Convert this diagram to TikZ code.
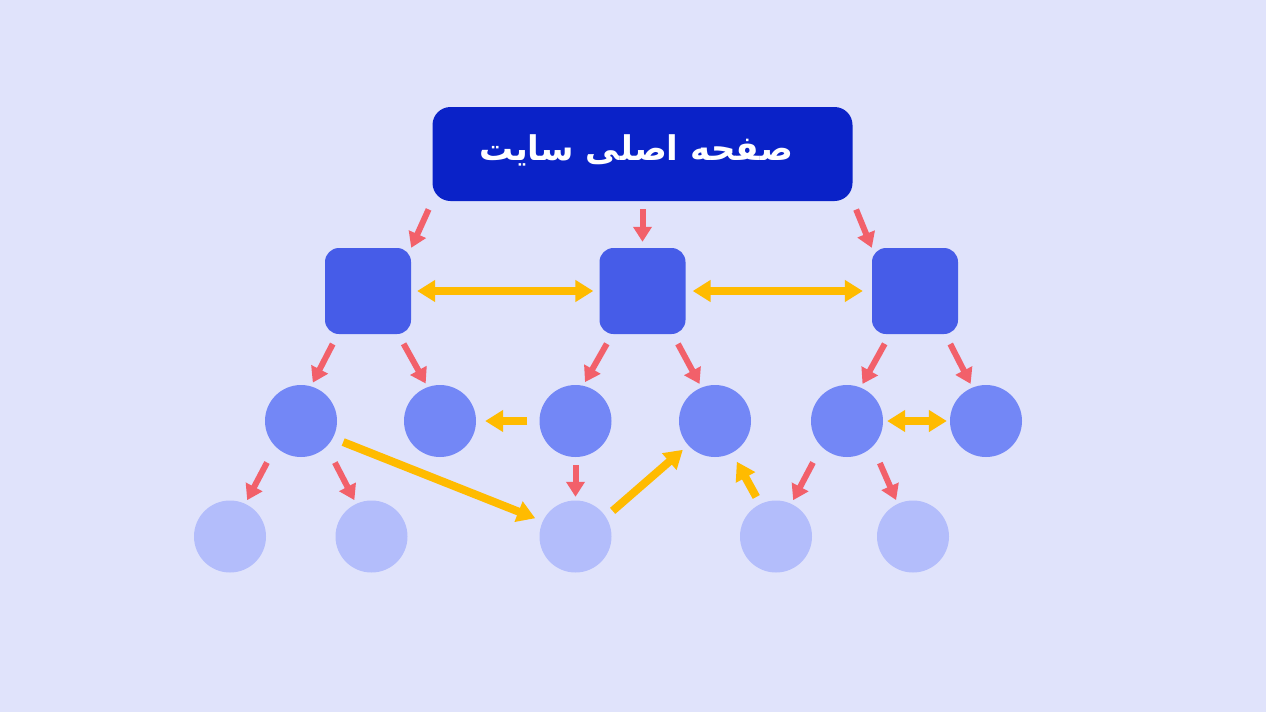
\documentclass[tikz,border=0pt]{standalone}
\usepackage{fontspec}
\newfontfamily\farsifont[Script=Arabic]{DejaVu Sans}
\TeXXeTstate=1
\usetikzlibrary{arrows.meta}
\definecolor{bgcol}{HTML}{E0E3FB}
\definecolor{homecol}{HTML}{0A22C8}
\definecolor{sqcol}{HTML}{465CE8}
\definecolor{midcol}{HTML}{7387F6}
\definecolor{lowcol}{HTML}{B3BDFB}
\definecolor{linkred}{HTML}{F2606A}
\definecolor{linkyellow}{HTML}{FFBB00}
\tikzset{
	homebox/.style={rectangle, fill=homecol, rounded corners=18pt, minimum width=420pt, minimum height=94pt, text=white, inner sep=0pt},
	sqbox/.style={rectangle, fill=sqcol, rounded corners=14pt, minimum size=86pt, inner sep=0pt},
	midball/.style={circle, fill=midcol, minimum size=72pt, inner sep=0pt},
	lowball/.style={circle, fill=lowcol, minimum size=72pt, inner sep=0pt},
	redlink/.style={draw=linkred, line width=6pt, -{Triangle[width=18pt,length=15pt]}},
	yellowlink/.style={draw=linkyellow, line width=8pt, -{Triangle[width=21pt,length=18pt]}},
	yellowboth/.style={draw=linkyellow, line width=8pt, {Triangle[width=21pt,length=18pt]}-{Triangle[width=21pt,length=18pt]}}
}
\begin{document}
\begin{tikzpicture}[x=1pt,y=-1pt]
		\fill[bgcol] (0,0) rectangle (1266,712);
		\useasboundingbox (0,0) rectangle (1266,712);
		\node[homebox] (home) at (642.5,154) {};
		\node[text=white] (title) at (636,150) {\fontsize{34}{40}\selectfont\farsifont\bfseries\beginR صفحه اصلی سایت\endR};
		\node[sqbox] (s1) at (368,291) {};
		\node[sqbox] (s2) at (642.5,291) {};
		\node[sqbox] (s3) at (915,291) {};
		\node[midball] (m1) at (301,421) {};
		\node[midball] (m2) at (440,421) {};
		\node[midball] (m3) at (575.5,421) {};
		\node[midball] (m4) at (715,421) {};
		\node[midball] (m5) at (847,421) {};
		\node[midball] (m6) at (986,421) {};
		\node[lowball] (b1) at (230,536.5) {};
		\node[lowball] (b2) at (371.5,536.5) {};
		\node[lowball] (b3) at (575.5,536.5) {};
		\node[lowball] (b4) at (776,536.5) {};
		\node[lowball] (b5) at (913,536.5) {};
		\draw[redlink, shorten <=9pt] (home.south west) -- (s1.north east);
		\draw[redlink, shorten <=8pt, shorten >=6pt] (home.south) -- (s2.north);
		\draw[redlink, shorten <=9pt] (home.south east) -- (s3.north west);
		\draw[redlink, shorten <=11pt, shorten >=4pt] (s1.235) -- (m1.74);
		\draw[redlink, shorten <=11pt, shorten >=4pt] (s1.305) -- (m2.110);
		\draw[redlink, shorten <=11pt, shorten >=4pt] (s2.235) -- (m3.78);
		\draw[redlink, shorten <=11pt, shorten >=4pt] (s2.305) -- (m4.112);
		\draw[redlink, shorten <=11pt, shorten >=4pt] (s3.240) -- (m5.68);
		\draw[redlink, shorten <=11pt, shorten >=4pt] (s3.305) -- (m6.112);
		\draw[redlink, shorten <=18pt, shorten >=4pt] (m1.225) -- (b1.65);
		\draw[redlink, shorten <=18pt, shorten >=4pt] (m1.315) -- (b2.115);
		\draw[redlink, shorten <=8pt, shorten >=3.5pt] (m3.south) -- (b3.north);
		\draw[redlink, shorten <=18pt, shorten >=4pt] (m5.225) -- (b4.65);
		\draw[redlink, shorten <=18pt, shorten >=4pt] (m5.315) -- (b5.115);
		\draw[yellowboth, shorten <=6pt, shorten >=6pt] (s1) -- (s2);
		\draw[yellowboth, shorten <=7pt, shorten >=9pt] (s2) -- (s3);
		\draw[yellowlink, shorten <=12pt, shorten >=9pt] (m3) -- (m2);
		\draw[yellowlink, shorten <=11pt, shorten >=8pt] (m1.332) -- (b3.155);
		\draw[yellowlink, shorten <=9pt, shorten >=7pt] (b3.33) -- (m4.222);
		\draw[yellowlink, shorten <=8pt, shorten >=10pt] (b4.116) -- (m4.298);
		\draw[yellowboth, shorten <=4pt, shorten >=3pt] (m5) -- (m6);
	\end{tikzpicture}
\end{document}
